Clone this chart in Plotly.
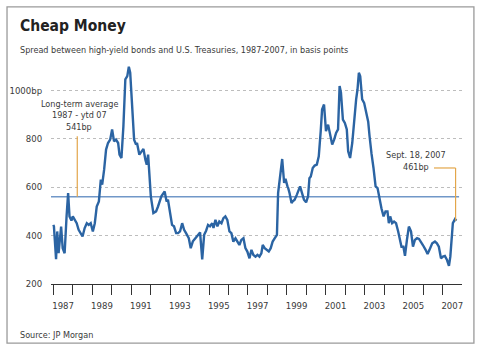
import plotly.graph_objects as go

# ---- data (decimal years, basis points) ----
dates = [
    1987.00, 1987.03, 1987.14, 1987.20, 1987.27, 1987.34, 1987.40, 1987.48, 1987.58, 1987.68,
    1987.76, 1987.83, 1987.93, 1988.00, 1988.10, 1988.20, 1988.30, 1988.40, 1988.50, 1988.61,
    1988.72, 1988.82, 1988.92, 1989.03, 1989.13, 1989.23, 1989.34, 1989.44, 1989.51, 1989.61,
    1989.71, 1989.81, 1989.92, 1990.02, 1990.12, 1990.22, 1990.33, 1990.40, 1990.50, 1990.60,
    1990.70, 1990.80, 1990.88, 1990.95, 1991.05, 1991.15, 1991.25, 1991.30, 1991.42, 1991.52,
    1991.63, 1991.73, 1991.80, 1991.87, 1991.94, 1992.01, 1992.14, 1992.28, 1992.38, 1992.55,
    1992.72, 1992.82, 1992.89, 1993.00, 1993.10, 1993.20, 1993.31, 1993.41, 1993.51, 1993.62,
    1993.72, 1993.82, 1993.96, 1994.06, 1994.17, 1994.30, 1994.44, 1994.54, 1994.65, 1994.75,
    1994.85, 1994.95, 1995.05, 1995.16, 1995.23, 1995.33, 1995.43, 1995.53, 1995.64, 1995.74,
    1995.84, 1995.94, 1996.05, 1996.15, 1996.25, 1996.36, 1996.46, 1996.56, 1996.66, 1996.77,
    1996.87, 1996.97, 1997.08, 1997.18, 1997.28, 1997.39, 1997.49, 1997.59, 1997.69, 1997.76,
    1997.86, 1997.97, 1998.07, 1998.17, 1998.27, 1998.38, 1998.49, 1998.55, 1998.66, 1998.76,
    1998.86, 1998.93, 1999.03, 1999.07, 1999.14, 1999.24, 1999.30, 1999.40, 1999.51, 1999.68,
    1999.78, 1999.88, 1999.99, 2000.09, 2000.16, 2000.23, 2000.33, 2000.43, 2000.54, 2000.64,
    2000.74, 2000.81, 2000.91, 2001.01, 2001.12, 2001.22, 2001.33, 2001.43, 2001.53, 2001.63,
    2001.71, 2001.78, 2001.88, 2001.98, 2002.08, 2002.15, 2002.25, 2002.36, 2002.46, 2002.56,
    2002.63, 2002.70, 2002.77, 2002.87, 2002.97, 2003.08, 2003.18, 2003.25, 2003.30, 2003.35,
    2003.45, 2003.56, 2003.66, 2003.76, 2003.86, 2003.97, 2004.07, 2004.17, 2004.24, 2004.31,
    2004.41, 2004.51, 2004.61, 2004.72, 2004.82, 2004.89, 2004.99, 2005.07, 2005.17, 2005.27,
    2005.38, 2005.48, 2005.58, 2005.69, 2005.79, 2005.89, 2005.99, 2006.13, 2006.23, 2006.33,
    2006.47, 2006.61, 2006.71, 2006.81, 2006.92, 2007.02, 2007.12, 2007.23, 2007.33, 2007.40,
    2007.47, 2007.53, 2007.64, 2007.71,
]
spread_bp = [
    444, 438, 302, 417, 327, 410, 437, 348, 327, 479,
    575, 479, 462, 479, 466, 451, 424, 410, 396, 431,
    451, 444, 451, 417, 451, 520, 541, 631, 610, 672,
    755, 782, 796, 838, 789, 796, 782, 734, 720, 851,
    1045, 1058, 1097, 1072, 920, 796, 776, 782, 734, 748,
    758, 713, 693, 734, 644, 562, 493, 500, 520, 562,
    582, 541, 548, 486, 444, 438, 410, 410, 417, 451,
    424, 410, 389, 348, 376, 389, 403, 413, 302, 403,
    420, 444, 438, 451, 431, 465, 438, 458, 451, 472,
    479, 465, 417, 410, 375, 389, 375, 361, 382, 389,
    348, 334, 306, 341, 320, 313, 320, 313, 327, 361,
    348, 341, 334, 348, 375, 389, 403, 575, 658, 716,
    617, 634, 603, 596, 575, 534, 541, 548, 568, 603,
    575, 548, 537, 562, 637, 644, 679, 689, 693, 727,
    831, 920, 941, 831, 858, 824, 776, 796, 824, 838,
    1017, 990, 879, 865, 838, 748, 720, 782, 879, 962,
    1003, 1072, 1058, 962, 948, 900, 870, 810, 755, 738,
    680, 603, 596, 548, 513, 479, 500, 500, 451, 479,
    451, 458, 451, 417, 382, 354, 354, 316, 382, 437,
    417, 354, 382, 389, 386, 375, 361, 341, 324, 341,
    368, 375, 368, 354, 306, 313, 316, 299, 275, 313,
    410, 451, 468, 461,
]

avg_level_drawn = 560          # where the long-term average line sits on the chart
avg_label = ["Long-term average", "1987 - ytd 07", "541bp"]
last_label = ["Sept. 18, 2007", "461bp"]

year_ticks = list(range(1987, 2008))
label_years = list(range(1987, 2008, 2))
y_ticks = [200, 400, 600, 800, 1000]
y_ticktext = ["200", "400", "600", "800", "1000bp"]

x_range = [1986.88, 2008.0]
y_range = [200, 1100]

FONT = "DejaVu Sans Condensed, Roboto, Arial, sans-serif"
TXT = "#3a3a3a"
BLUE = "#2b64a3"
AVG_BLUE = "#7197c8"
GOLD = "#e3a64a"
FS = 9

fig = go.Figure()

# long-term average line
fig.add_shape(type="line", xref="x", yref="y", x0=x_range[0], x1=2007.85,
              y0=avg_level_drawn, y1=avg_level_drawn,
              line=dict(color=AVG_BLUE, width=1.6), layer="below")

# callout leaders
fig.add_shape(type="line", xref="x", yref="y", x0=1988.23, x1=1988.23,
              y0=avg_level_drawn, y1=810, line=dict(color=GOLD, width=1.2))
fig.add_shape(type="line", xref="x", yref="y", x0=2006.56, x1=dates[-1] - 0.04,
              y0=679, y1=679, line=dict(color=GOLD, width=1.2))
fig.add_shape(type="line", xref="x", yref="y", x0=dates[-1] - 0.04, x1=dates[-1] - 0.04,
              y0=679, y1=spread_bp[-1], line=dict(color=GOLD, width=1.2))

fig.add_trace(go.Scatter(x=dates, y=spread_bp, mode="lines",
                         line=dict(color=BLUE, width=2.4, shape="linear"),
                         cliponaxis=False, hoverinfo="skip", showlegend=False))
# invisible trace to carry the label axis
fig.add_trace(go.Scatter(x=dates, y=spread_bp, xaxis="x2", mode="lines",
                         opacity=0, hoverinfo="skip", showlegend=False))

# border frame
fig.add_shape(type="rect", xref="paper", yref="paper",
              x0=-0.107, x1=1.029, y0=-0.271, y1=1.271,
              line=dict(color="#9a9a9a", width=1.3), layer="below")

ann = []
ann.append(dict(text="<b>Cheap Money</b>", xref="paper", yref="paper", x=-0.080, y=1.185,
                xanchor="left", yanchor="middle", showarrow=False,
                font=dict(family=FONT, size=15.5, color="#222")))
ann.append(dict(text="Spread between high-yield bonds and U.S. Treasuries, 1987-2007, in basis points",
                xref="paper", yref="paper", x=-0.080, y=1.073,
                xanchor="left", yanchor="middle", showarrow=False,
                font=dict(family=FONT, size=FS, color=TXT)))
ann.append(dict(text="Source: JP Morgan", xref="paper", yref="paper", x=-0.080, y=-0.234,
                xanchor="left", yanchor="middle", showarrow=False,
                font=dict(family=FONT, size=FS, color=TXT)))
for t, yv in zip(avg_label, [944, 898, 850]):
    ann.append(dict(text=t, xref="x", yref="y", x=1988.34, y=yv, xanchor="center",
                    yanchor="middle", showarrow=False, font=dict(family=FONT, size=FS, color=TXT)))
for t, yv in zip(last_label, [731, 683]):
    ann.append(dict(text=t, xref="x", yref="y", x=2005.66, y=yv, xanchor="center",
                    yanchor="middle", showarrow=False, font=dict(family=FONT, size=FS, color=TXT)))

fig.update_layout(
    width=484, height=351,
    margin=dict(l=51, r=22, t=66, b=67, autoexpand=False),
    paper_bgcolor="white", plot_bgcolor="white",
    font=dict(family=FONT, size=FS, color=TXT),
    annotations=ann,
    xaxis=dict(range=x_range, tickmode="array", tickvals=year_ticks,
               ticktext=["" for _ in year_ticks], ticks="outside", ticklen=10,
               tickwidth=1.4, tickcolor="#333", showline=True, linecolor="#333",
               linewidth=1.4, showgrid=False, zeroline=False, automargin=False),
    xaxis2=dict(range=x_range, overlaying="x", anchor="y", side="bottom",
                tickmode="array", tickvals=[y + 0.5 for y in label_years],
                ticktext=[str(y) for y in label_years], ticks="outside", ticklen=13,
                tickcolor="rgba(0,0,0,0)", showline=False, showgrid=False,
                zeroline=False, automargin=False,
                tickfont=dict(family=FONT, size=FS + 0.5, color=TXT)),
    yaxis=dict(range=y_range, tickmode="array", tickvals=y_ticks, ticktext=y_ticktext,
               ticks="outside", ticklen=6, tickcolor="rgba(0,0,0,0)",
               showgrid=True, gridcolor="#bdbdbd", griddash="dot", gridwidth=1,
               showline=False, zeroline=False, automargin=False,
               tickfont=dict(family=FONT, size=FS + 0.5, color=TXT)),
)

fig.write_html("out.html")
